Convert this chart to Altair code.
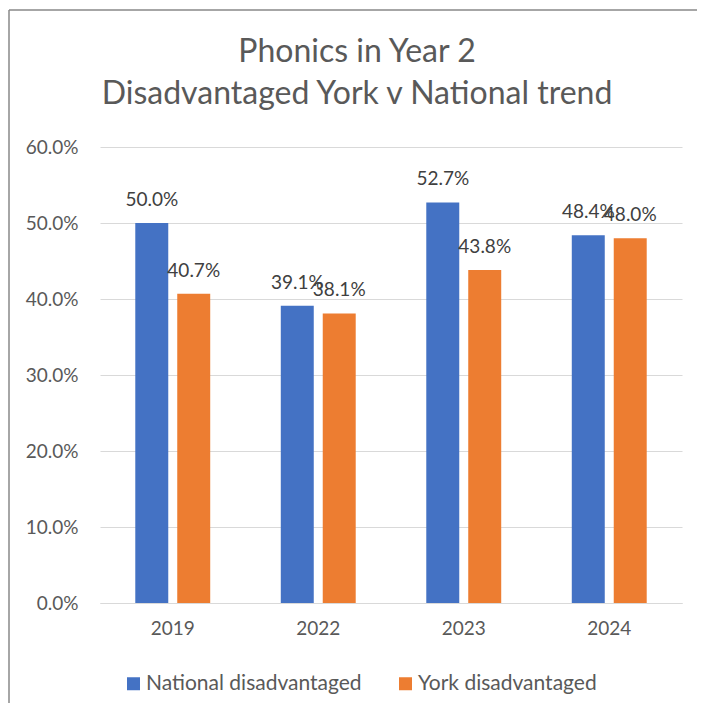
import altair as alt
import pandas as pd

years = ["2019", "2022", "2023", "2024"]
series_names = ["National disadvantaged", "York disadvantaged"]
national = [0.500, 0.391, 0.527, 0.484]
york = [0.407, 0.381, 0.438, 0.480]
colors = ["#4472C4", "#ED7D31"]
y_ticks = [0.0, 0.1, 0.2, 0.3, 0.4, 0.5, 0.6]

rows = []
for i, y in enumerate(years):
    rows.append({"year": y, "series": series_names[0], "value": national[i]})
    rows.append({"year": y, "series": series_names[1], "value": york[i]})
df = pd.DataFrame(rows)

FONT = "Lato"

x_enc = alt.X(
    "year:N",
    sort=years,
    scale=alt.Scale(paddingInner=0.485, paddingOuter=0.2425),
    axis=alt.Axis(
        title=None, labelAngle=0, ticks=False, domain=True, domainColor="#d9d9d9",
        domainWidth=1, labelFontSize=19, labelColor="#595959", labelFont=FONT,
        labelPadding=16,
    ),
)
xo_enc = alt.XOffset(
    "series:N", sort=series_names,
    scale=alt.Scale(paddingInner=0.214, paddingOuter=0),
)
y_enc = alt.Y(
    "value:Q",
    scale=alt.Scale(domain=[0, 0.6], nice=False),
    axis=alt.Axis(
        title=None, format=".1%", values=y_ticks, ticks=False, domain=False,
        grid=True, gridColor="#d9d9d9", gridWidth=1, labelFontSize=19,
        labelColor="#595959", labelFont=FONT, labelPadding=22,
    ),
)

bars = alt.Chart(df).mark_bar().encode(
    x=x_enc,
    xOffset=xo_enc,
    y=y_enc,
    color=alt.Color(
        "series:N",
        scale=alt.Scale(domain=series_names, range=colors),
        legend=alt.Legend(
            title=None, orient="none", direction="horizontal",
            legendX=23, legendY=526, symbolType="square", symbolSize=169,
            symbolStrokeWidth=0, labelFontSize=21, labelFont=FONT,
            labelColor="#595959", labelOffset=2, columnPadding=33,
            labelLimit=400,
        ),
    ),
)

labels = alt.Chart(df).mark_text(
    dy=-17, baseline="alphabetic", fontSize=19, font=FONT, color="#404040"
).encode(
    x=alt.X("year:N", sort=years),
    xOffset=alt.XOffset("series:N", sort=series_names),
    y=alt.Y("value:Q"),
    text=alt.Text("value:Q", format=".1%"),
)

frame_df = pd.DataFrame({"k": [0]})
top_border = alt.Chart(frame_df).mark_rule(color="#898989", strokeWidth=1.5).encode(
    x=alt.value(-91), x2=alt.value(597), y=alt.value(-137)
)
left_border = alt.Chart(frame_df).mark_rule(color="#898989", strokeWidth=1.5).encode(
    x=alt.value(-91), y=alt.value(-137), y2=alt.value(556)
)

chart = alt.layer(top_border, left_border, bars, labels).properties(
    width=582,
    height=456,
    background="white",
    title=alt.TitleParams(
        text=["Phonics in Year 2", "Disadvantaged York v National trend"],
        fontSize=32, font=FONT, fontWeight="normal", color="#595959",
        anchor="middle", frame="group", dx=-34, lineHeight=42, offset=-102,
        baseline="top",
    ),
    autosize=alt.AutoSizeParams(type="none"),
    padding={"left": 92, "top": 139, "right": 15, "bottom": 100},
).configure_view(stroke=None)

chart.save("out.html", embed_options={"renderer": "svg", "actions": False})
